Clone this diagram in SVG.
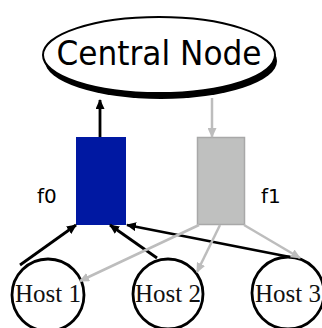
<svg xmlns="http://www.w3.org/2000/svg" width="322" height="328" viewBox="0 0 322 328">
<style>
.blk{stroke:#000;stroke-width:2.8;fill:none}
.gry{stroke:#bdbdbd;stroke-width:2.5;fill:none}
.host{fill:#fff;stroke:#000;stroke-width:2.8}
.htxt{font-family:"Liberation Serif",serif;font-size:25px;fill:#111}
.lbl{font-family:"DejaVu Sans",sans-serif;font-size:20px;fill:#000}
</style>
<defs>
<marker id="ab" markerWidth="10" markerHeight="9" refX="9" refY="4.5" orient="auto" markerUnits="userSpaceOnUse"><path d="M0,0 L10,4.5 L0,9 Z" fill="#000"/></marker>
<marker id="ag" markerWidth="10" markerHeight="9" refX="9" refY="4.5" orient="auto" markerUnits="userSpaceOnUse"><path d="M0,0 L10,4.5 L0,9 Z" fill="#bdbdbd"/></marker>
</defs>
<rect width="322" height="328" fill="#fff"/>
<g id="central">
<ellipse cx="161" cy="61" rx="116" ry="38" fill="#000"/>
<ellipse cx="159" cy="55" rx="116" ry="38" fill="#fff" stroke="#000" stroke-width="2"/>
<text x="159" y="65" text-anchor="middle" font-family="'DejaVu Sans',sans-serif" font-size="34" textLength="205" lengthAdjust="spacingAndGlyphs">Central Node</text>
</g>
<g id="f0">
<rect x="76" y="137" width="50" height="88" fill="#0018a2"/>
<text class="lbl" x="37" y="203">f0</text>
</g>
<g id="f1">
<rect x="197.5" y="137.5" width="47" height="87" fill="#bfc0bf" stroke="#a8a8a8" stroke-width="1.5"/>
<text class="lbl" x="261" y="203">f1</text>
</g>
<g id="host1">
<circle class="host" cx="48" cy="295" r="36"/>
<text class="htxt" x="48" y="302" text-anchor="middle">Host 1</text>
</g>
<g id="host2">
<circle class="host" cx="168" cy="294" r="35"/>
<text class="htxt" x="168" y="302" text-anchor="middle">Host 2</text>
</g>
<g id="host3">
<circle class="host" cx="288" cy="293" r="36"/>
<text class="htxt" x="288" y="302" text-anchor="middle">Host 3</text>
</g>
<g id="connectors">
<line class="blk" x1="100" y1="137" x2="100" y2="100" marker-end="url(#ab)"/>
<line class="gry" x1="212" y1="98" x2="212" y2="137" marker-end="url(#ag)"/>
<line class="blk" x1="20" y1="265" x2="76" y2="225" marker-end="url(#ab)"/>
<line class="blk" x1="157" y1="258" x2="110" y2="225" marker-end="url(#ab)"/>
<line class="blk" x1="290" y1="257" x2="127" y2="225" marker-end="url(#ab)"/>
<line class="gry" x1="199" y1="225" x2="80" y2="281" marker-end="url(#ag)"/>
<line class="gry" x1="220" y1="225" x2="197" y2="272" marker-end="url(#ag)"/>
<line class="gry" x1="244" y1="225" x2="300" y2="258" marker-end="url(#ag)"/>
</g>
</svg>
